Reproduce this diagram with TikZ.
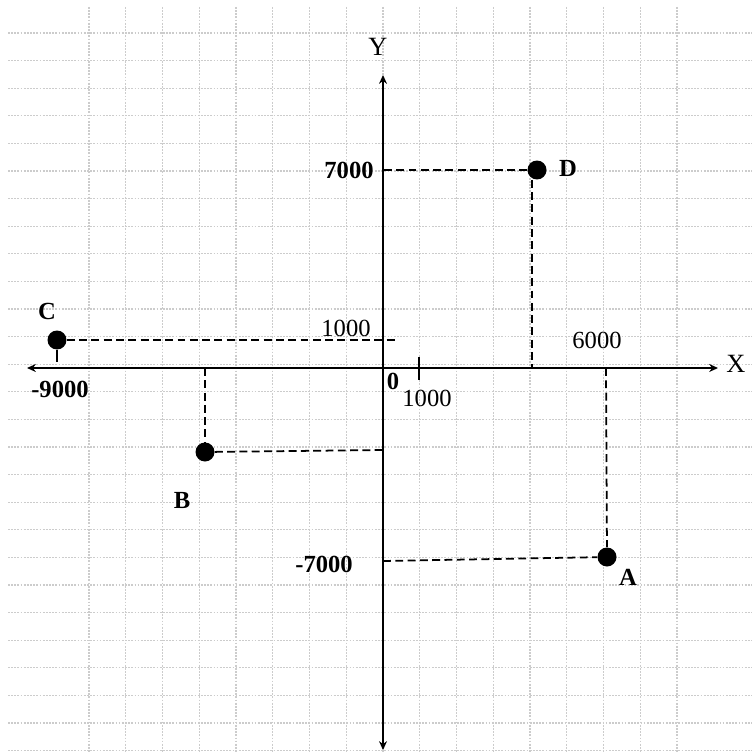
\documentclass[tikz,border=0pt]{standalone}
\usepackage{xcolor}
\usepackage{tikz}
\usetikzlibrary{arrows.meta}
\usepackage{fontspec}
\setmainfont{Liberation Serif}

\begin{document}
\begin{tikzpicture}[x=0.02cm, y=-0.02cm,
    punto/.style = {circle, fill=black, inner sep=0pt, minimum size=0.38cm},
    guia/.style = {line width=1pt, dash pattern=on 4.5pt off 2.5pt},
    etiq/.style = {font=\fontsize{14}{16}\selectfont\bfseries},
    num/.style = {font=\fontsize{14}{16}\selectfont}]
    % Hoja cuadriculada
    \useasboundingbox (0,0) rectangle (752,753);
    \fill[white] (0,0) rectangle (752,753);
    \foreach \k in {0,...,16}
        \draw[black!20, line width=0.6pt, dash pattern=on 1pt off 0.8pt] (89+36.75*\k,7) -- (89+36.75*\k,753);
    \foreach \k in {0,...,26}
        \draw[black!20, line width=0.6pt, dash pattern=on 1pt off 0.8pt] (8,33+27.6*\k) -- (752,33+27.6*\k);

    % Ejes
    \coordinate (O) at (383,368);
    \coordinate (xizq) at (27,368);
    \coordinate (xder) at (718,368);
    \coordinate (yarr) at (383,75);
    \coordinate (yaba) at (383,750);
    \draw[line width=1.2pt, {Stealth[length=5pt,width=4.5pt]}-{Stealth[length=5pt,width=4.5pt]}] (xizq) -- (xder);
    \draw[line width=1.2pt, {Stealth[length=5pt,width=4.5pt]}-{Stealth[length=5pt,width=4.5pt]}] (yaba) -- (yarr);
    \node[num, font=\fontsize{15}{17}\selectfont] (X) at (736,364) {X};
    \node[num, font=\fontsize{15}{17}\selectfont] (Y) at (378,47) {Y};
    \node[etiq] (cero) at (393,381) {0};

    % Marca de 1000 en el eje X
    \coordinate (m1) at (419,357);
    \coordinate (m2) at (419,380);
    \draw[line width=0.9pt] (m1) -- (m2);
    \node[num] (mil) at (427,398) {1000};

    % Punto D
    \node[punto] (D) at (537,170) {};
    \node[etiq] (nD) at (568,168) {D};
    \coordinate (Dy) at (383,170);
    \coordinate (Dx) at (532,368);
    \draw[guia] (D) -- (Dy);
    \draw[guia] (Dx |- D.south) -- (Dx);
    \node[etiq] (n7000) at (349,170) {7000};

    % Punto C
    \node[punto] (C) at (57,340) {};
    \node[etiq] (nC) at (47,311) {C};
    \coordinate (Cy) at (396,340);
    \coordinate (Cx) at (57,362);
    \draw[guia] (C) -- (Cy);
    \draw[line width=0.9pt] (C) -- (Cx);
    \node[num] (Cmil) at (346,328) {1000};
    \node[etiq] (n9000) at (60,389) {-9000};

    % Punto B
    \node[punto] (B) at (205,452) {};
    \node[etiq] (nB) at (182,500) {B};
    \coordinate (Bx) at (205,368);
    \coordinate (By) at (383,450);
    \draw[guia] (Bx) -- (B);
    \draw[guia] (B) -- (By);

    % Punto A
    \node[punto] (A) at (607,557) {};
    \node[etiq] (nA) at (628,577) {A};
    \coordinate (Ax) at (606,368);
    \coordinate (Ay) at (383,561);
    \draw[guia] (Ax) -- (A);
    \draw[guia] (Ay) -- (A);
    \node[etiq] (n7000m) at (324,564) {-7000};
    \node[num] (n6000) at (597,340) {6000};
\end{tikzpicture}
\end{document}
